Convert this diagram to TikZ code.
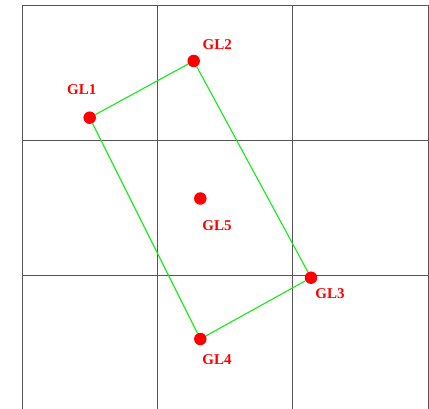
\documentclass[tikz,border=0pt]{standalone}
\usepackage{fontspec}
\setmainfont{Liberation Serif}
\usetikzlibrary{positioning}
\definecolor{gridgray}{RGB}{85,85,85}
\definecolor{edgegreen}{RGB}{20,235,20}

\begin{document}
\begin{tikzpicture}[x=1pt, y=-1pt,
  gridline/.style={draw=gridgray, line width=0.9pt},
  glpoint/.style={circle, fill=red, inner sep=0pt, minimum size=12.5pt},
  gllabel/.style={text=red, font=\bfseries\fontsize{15}{15}\selectfont, inner sep=0pt},
  gledge/.style={draw=edgegreen, line width=1.1pt}]
  \useasboundingbox (0,0) rectangle (429,409);
  % grid
  \foreach \x in {22,157.3,292.7,428}
    \draw[gridline] (\x,5) -- (\x,409);
  \foreach \y in {5,140.3,275.7}
    \draw[gridline] (22,\y) -- (428,\y);
  % points
  \node[glpoint] (gl1) at (89.7,117.7) {};
  \node[glpoint] (gl2) at (193.7,61) {};
  \node[glpoint] (gl3) at (311,277.7) {};
  \node[glpoint] (gl4) at (200.3,339) {};
  \node[glpoint] (gl5) at (200.3,198.5) {};
  \draw[gledge] (gl1) -- (gl2) -- (gl3) -- (gl4) -- (gl1);
  % labels
  \node[gllabel] (t1) at (81.7,90) {GL1};
  \node[gllabel] (t2) at (217.3,45) {GL2};
  \node[gllabel] (t3) at (330,293.5) {GL3};
  \node[gllabel] (t4) at (217,360) {GL4};
  \node[gllabel] (t5) at (217,226) {GL5};
\end{tikzpicture}
\end{document}
